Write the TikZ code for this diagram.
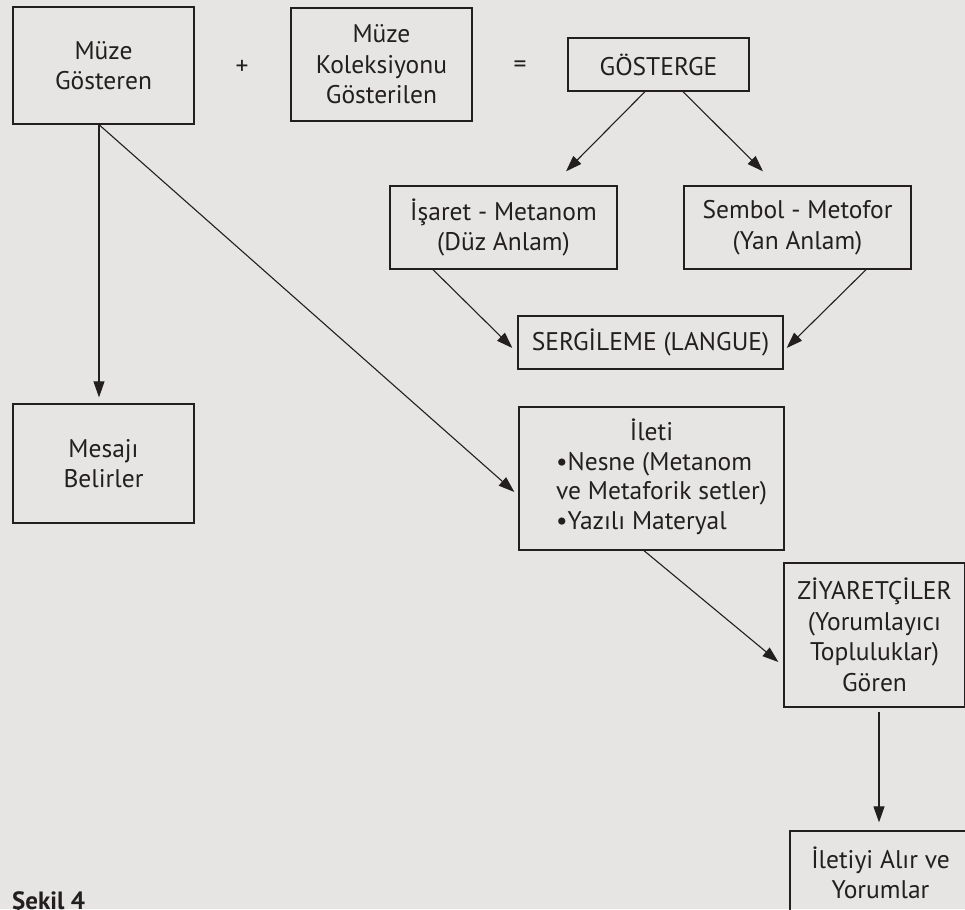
\documentclass[tikz,border=0pt]{standalone}
\usepackage{fontspec}
\setmainfont{PT Sans}
\usetikzlibrary{arrows.meta,calc}
\definecolor{bg}{RGB}{230,229,227}
\definecolor{ink}{RGB}{35,31,32}
\tikzset{
  box/.style={draw=ink, line width=1.3pt, text=ink, align=center, inner sep=0pt,
    font=\fontsize{25.5}{30.5}\selectfont},
  plain/.style={text=ink, inner sep=0pt, font=\fontsize{25.5}{30.5}\selectfont},
  conn/.style={draw=ink, line width=1.1pt, -{Triangle[length=16pt,width=11pt]}}
}
\begin{document}
\begin{tikzpicture}[x=1pt,y=-1pt]
\fill[bg] (0,0) rectangle (965,909);
\useasboundingbox (0,0) rectangle (965,909);

\node[box, minimum width=181pt, minimum height=117pt] (g1) at (103.5,65.5) {Müze\\Gösteren};
\node[plain] (plus) at (242,67) {+};
\node[box, minimum width=181pt, minimum height=113pt] (g2) at (381.5,64.5) {Müze\\Koleksiyonu\\Gösterilen};
\node[plain] (eq) at (520,67) {=};
\node[box, minimum width=181pt, minimum height=53pt] (gos) at (658.5,64.5) {GÖSTERGE};

\node[box, minimum width=227pt, minimum height=83pt] (isaret) at (503.5,227.5) {İşaret - Metanom\\(Düz Anlam)};
\node[box, minimum width=227pt, minimum height=83pt] (sembol) at (797.5,227.5) {Sembol - Metofor\\(Yan Anlam)};
\node[box, minimum width=265pt, minimum height=53pt] (serg) at (650.5,342.5) {SERGİLEME (LANGUE)};

\node[box, minimum width=181pt, minimum height=119pt] (mesaj) at (103.5,463.5) {Mesajı\\Belirler};
\node[box, minimum width=265pt, minimum height=143pt] (ileti) at (651.5,478.5)
  {\hspace*{20pt}\begin{tabular}{@{}l@{}}\multicolumn{1}{@{}c@{}}{\hspace*{-20pt}İleti}\\[-1pt]•Nesne (Metanom\\[-1pt]ve Metaforik setler)\\[-1pt]•Yazılı Materyal\end{tabular}};
\node[box, minimum width=181pt, minimum height=144pt] (ziy) at (874.5,635) {ZİYARETÇİLER\\(Yorumlayıcı\\Topluluklar)\\Gören};
\node[box, minimum width=181pt, minimum height=84pt] (son) at (880.5,873) {İletiyi Alır ve\\Yorumlar};

\node[text=ink, inner sep=0pt, anchor=north west, font=\bfseries\fontsize{25}{30}\selectfont] (sekil) at (12,891) {Şekil 4};

\draw[conn] ([xshift=-13.5pt]gos.south) -- ([xshift=62.5pt,yshift=14pt]isaret.north);
\draw[conn] ([xshift=24.5pt]gos.south) -- ([xshift=-34.5pt,yshift=14pt]sembol.north);
\draw[conn] ([xshift=-70.5pt]isaret.south) -- ([xshift=-5pt,yshift=-5.5pt]serg.west);
\draw[conn] ([xshift=68.5pt]sembol.south) -- ([xshift=3pt,yshift=-5.5pt]serg.east);
\draw[conn] ([xshift=-4.5pt]g1.south) -- ([xshift=-4.5pt,yshift=6pt]mesaj.north);
\draw[conn] ([xshift=-4.5pt]g1.south) -- ([xshift=-4pt,yshift=-13.5pt]ileti.west);
\draw[conn] ([xshift=-7.5pt]ileti.south) -- ([xshift=-5pt,yshift=-27pt]ziy.west);
\draw[conn] ([xshift=4.5pt,yshift=-4pt]ziy.south) -- ([xshift=-1.5pt,yshift=8pt]son.north);
\end{tikzpicture}
\end{document}
